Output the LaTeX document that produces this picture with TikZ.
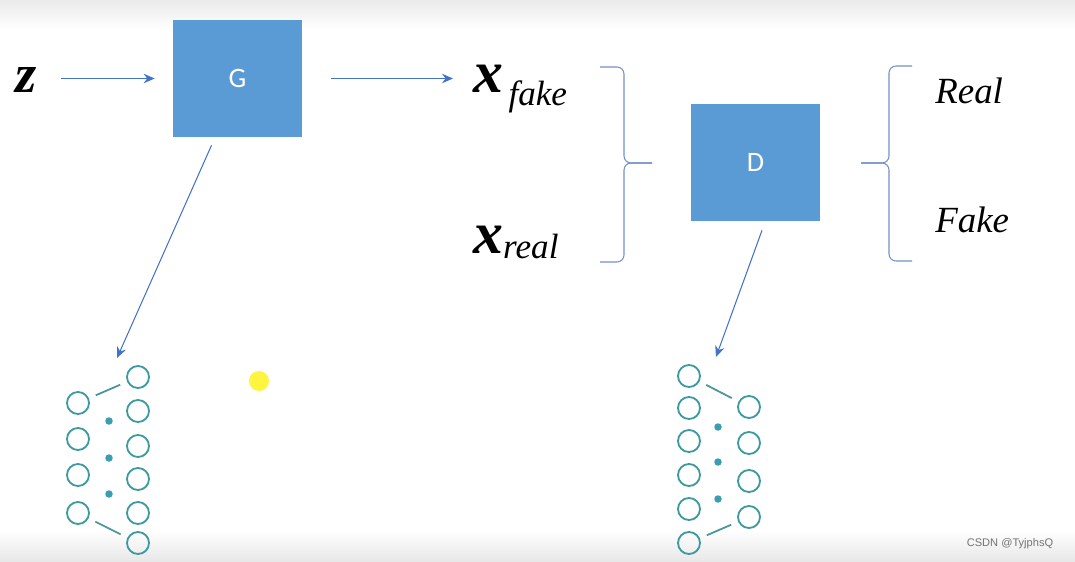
\documentclass[tikz,border=0pt]{standalone}
\usepackage{fontspec}
\setmainfont{Liberation Serif}
\newfontfamily\boxfont{Carlito}
\newfontfamily\markfont{Liberation Sans}
\usetikzlibrary{arrows.meta}
\definecolor{boxblue}{HTML}{5B9BD5}
\definecolor{arrowblue}{HTML}{4472C4}
\definecolor{bracegray}{HTML}{7090C8}
\definecolor{unitteal}{HTML}{3C9AA0}
\definecolor{dotteal}{HTML}{3A9DB3}

\begin{document}
\begin{tikzpicture}[every node/.style={inner sep=0pt},
    netbox/.style={fill=boxblue, minimum width=2.58cm, minimum height=2.34cm, text=white, font=\boxfont\fontsize{16}{16}\selectfont},
    flow/.style={-{Stealth[length=2.2mm, width=1.9mm]}, draw=arrowblue, line width=0.6pt},
    unit/.style={circle, draw=unitteal, line width=1.05pt, minimum size=0.44cm},
    gap/.style={circle, fill=dotteal, minimum size=0.15cm},
    link/.style={draw=unitteal!80!gray, line width=1pt, shorten <=0.15cm, shorten >=0.15cm},
    brace/.style={draw=bracegray, line width=0.6pt, rounded corners=4pt}]
% ---------------- Canvas ----------------
\useasboundingbox (0,0) rectangle (21.5,11.22);
\shade[top color=black!8, bottom color=white] (0,10.62) rectangle (21.5,11.22);
\shade[top color=white, bottom color=black!9] (0,0) rectangle (21.5,0.62);

% ---------------- Generator row ----------------
\node (z) at (0.52,9.62) {\fontsize{31}{31}\selectfont\bfseries\itshape z};
\node[netbox] (G) at (4.75,9.65) {G};
\draw[flow, shorten <=0.49cm, shorten >=0.36cm] (z.east |- G.west) -- (G.west);

\node[anchor=base west] (xfake) at (9.46,9.36)
    {\fontsize{34}{34}\selectfont\bfseries\itshape x\hspace{3pt}\raisebox{-7pt}{\fontsize{20}{20}\selectfont\mdseries\itshape fake}};
\node[anchor=base west] (xreal) at (9.46,6.16)
    {\fontsize{34}{34}\selectfont\bfseries\itshape x\raisebox{-3pt}{\fontsize{20}{20}\selectfont\mdseries\itshape real}};
\draw[flow, shorten <=0.58cm, shorten >=0.4cm] (G.east) -- (G.east -| xfake.west);

% ---------------- Discriminator row ----------------
\draw[brace] (12.0,9.88) -- (12.48,9.88) -- (12.48,7.96) -- (13.04,7.96);
\draw[brace] (12.0,5.98) -- (12.48,5.98) -- (12.48,7.96) -- (13.04,7.96);

\node[netbox] (D) at (15.11,7.97) {D};

\draw[brace] (18.24,9.9) -- (17.78,9.9) -- (17.78,7.96) -- (17.22,7.96);
\draw[brace] (18.24,6.0) -- (17.78,6.0) -- (17.78,7.96) -- (17.22,7.96);

\node[anchor=base west, font=\fontsize{21}{21}\selectfont\itshape] (real) at (18.7,9.14) {Real};
\node[anchor=base west, font=\fontsize{21}{21}\selectfont\itshape] (fake) at (18.7,6.58) {Fake};

% =========================================================
% Generator network
% =========================================================
\coordinate (gin) at (2.34,4.06);
\draw[flow] ([xshift=-0.52cm, yshift=-0.16cm]G.south) -- (gin);
\foreach \y [count=\i] in {3.16,2.44,1.72,0.96}
    \node[unit] (gL\i) at (1.56,\y) {};
\foreach \y [count=\i] in {3.68,3.0,2.3,1.64,0.96,0.36}
    \node[unit] (gR\i) at (2.76,\y) {};
\foreach \y [count=\i] in {2.8,2.06,1.34}
    \node[gap] (gdot\i) at (2.18,\y) {};
\draw[link] (gL1) -- (gR1);
\draw[link] (gL4) -- (gR6);

\fill[yellow!75] (5.18,3.6) circle (0.2);

% =========================================================
% Discriminator network
% =========================================================
\coordinate (din) at (14.32,4.08);
\draw[flow] ([xshift=0.13cm, yshift=-0.18cm]D.south) -- (din);
\foreach \y [count=\i] in {3.7,3.06,2.4,1.72,1.04,0.36}
    \node[unit] (dL\i) at (13.78,\y) {};
\foreach \y [count=\i] in {3.08,2.36,1.6,0.88}
    \node[unit] (dR\i) at (14.98,\y) {};
\foreach \y [count=\i] in {2.68,1.98,1.24}
    \node[gap] (ddot\i) at (14.36,\y) {};
\draw[link] (dL1) -- (dR1);
\draw[link] (dL6) -- (dR4);

\node[font=\markfont\fontsize{6.3}{6.3}\selectfont, text=black!55] (mark) at (20.2,0.34) {CSDN @TyjphsQ};
\end{tikzpicture}
\end{document}
